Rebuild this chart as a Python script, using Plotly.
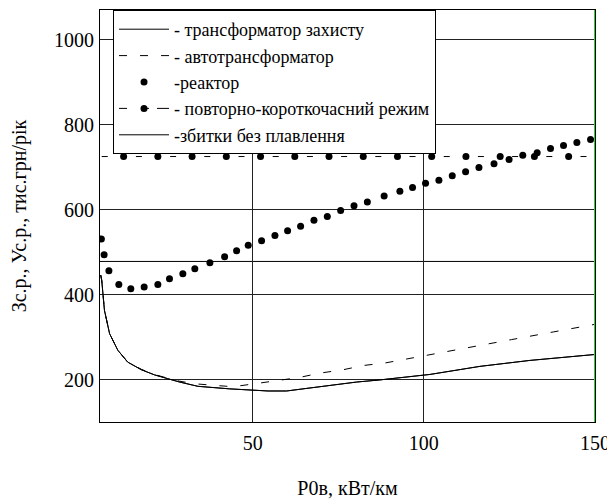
import plotly.graph_objects as go

# ---- data ----
x_tr = [5.6, 5.9, 6.7, 8.2, 10.6, 13.5, 17.5, 21.3, 25.2, 28.7, 34.0, 43.3, 54.5, 59.9,
        64.7, 72.5, 80.3, 87.1, 92.0, 101.8, 116.4, 131.0, 150.0]
y_tr = [446, 434, 363, 308, 269, 241, 223, 211, 202, 194, 184, 178, 173, 173,
        178, 186, 194, 199, 203, 212, 231, 245, 259]

x_at = [5.6, 5.9, 6.7, 8.2, 10.6, 13.5, 17.5, 21.3, 25.2, 28.7, 33.0, 37.4, 44.2, 50.6,
        56.9, 63.7, 69.6, 76.4, 82.3, 88.7, 100.8, 113.0, 125.6, 137.8, 150.0]
y_at = [446, 434, 363, 308, 269, 241, 224, 212, 203, 196, 190, 187, 183, 190,
        198, 205, 215, 223, 233, 239, 257, 276, 294, 312, 330]

x_re = [5.8, 6.6, 8.0, 10.9, 14.4, 18.3, 22.3, 25.7, 29.6, 33.1, 37.5, 41.8, 45.3, 48.7,
        52.6, 56.5, 60.2, 64.0, 67.9, 71.8, 75.7, 79.6, 83.5, 88.4, 93.0, 96.7, 100.5,
        104.4, 108.3, 112.2, 116.1, 120.5, 124.9, 128.9, 133.1, 137.0, 140.8, 144.7, 148.7]
y_re = [531, 494, 456, 424, 414, 418, 424, 437, 449, 461, 475, 489, 503, 516,
        527, 539, 550, 561, 575, 584, 598, 609, 618, 632, 643, 652, 662,
        669, 680, 689, 699, 708, 718, 728, 734, 744, 751, 758, 765]

# повторно-короткочасний режим: constant level drawn as dots with dashes between
x_pk_dots = [12.3, 22.3, 32.3, 42.3, 52.3, 62.3, 72.3, 82.3, 92.3, 102.3, 112.3,
             122.3, 132.3, 142.3]
x_pk_line = [5.9, 148.5]
y_pk = 725

x_ticks = [50, 100, 150]
y_ticks = [200, 400, 600, 800, 1000]
y_marker = 478
x_marker = 150

names = ["- трансформатор захисту", "- автотрансформатор", "-реактор",
         "- повторно-короткочасний режим", "-збитки без плавлення"]

FONT = "Times New Roman, Liberation Serif, serif"
FS = 20
FS_LEG = 18

fig = go.Figure()
fig.add_trace(go.Scatter(x=x_tr, y=y_tr, mode="lines", name=names[0],
                         line=dict(color="black", width=1)))
fig.add_trace(go.Scatter(x=x_at, y=y_at, mode="lines", name=names[1],
                         line=dict(color="black", width=1, dash="8px,13px")))
fig.add_trace(go.Scatter(x=x_re, y=y_re, mode="markers", name=names[2],
                         marker=dict(color="black", size=7)))
fig.add_trace(go.Scatter(x=x_pk_line, y=[y_pk] * len(x_pk_line), mode="lines",
                         showlegend=False, hoverinfo="skip",
                         line=dict(color="black", width=1, dash="6px,28.2px")))
fig.add_trace(go.Scatter(x=x_pk_dots, y=[y_pk] * len(x_pk_dots), mode="markers",
                         showlegend=False,
                         marker=dict(color="black", size=7)))
fig.add_trace(go.Scatter(x=[None], y=[None], mode="lines+markers", name=names[3],
                         line=dict(color="black", width=1, dash="8px,14px,8px"),
                         marker=dict(color="black", size=7)))
fig.add_trace(go.Scatter(x=x_tr, y=y_tr, mode="lines", name=names[4],
                         line=dict(color="black", width=1)))

# marker lines
fig.add_shape(type="line", xref="paper", x0=0, x1=1, yref="y", y0=y_marker, y1=y_marker,
              line=dict(color="black", width=1), layer="below")
fig.add_shape(type="line", xref="x", x0=x_marker, x1=x_marker, yref="paper", y0=0, y1=1,
              line=dict(color="#22dd22", width=2))

# the page body has an 8px margin, so the figure is sized/offset to compensate
fig.update_layout(
    width=607, height=492,
    margin=dict(l=92, r=20, t=2, b=78),
    paper_bgcolor="white", plot_bgcolor="white",
    font=dict(family=FONT, size=FS, color="black"),
    showlegend=True,
    legend=dict(x=0.0263, y=1.0, xanchor="left", yanchor="top",
                bgcolor="white", bordercolor="black", borderwidth=1,
                font=dict(family=FONT, size=FS_LEG), itemwidth=50,
                tracegroupgap=0),
    xaxis=dict(range=[5.4, 150], tickvals=x_ticks, ticktext=[str(v) for v in x_ticks],
               showgrid=True, gridcolor="#222", gridwidth=1, zeroline=False,
               showline=True, linecolor="black", linewidth=1, mirror=True,
               ticks="", ticklen=0, ticklabelstandoff=3,
               title=dict(text="P0в, кВт/км", font=dict(family=FONT, size=FS), standoff=27)),
    yaxis=dict(range=[100, 1070], tickvals=y_ticks, ticktext=[str(v) for v in y_ticks],
               showgrid=True, gridcolor="#222", gridwidth=1, zeroline=False,
               showline=True, linecolor="black", linewidth=1, mirror=True,
               ticks="", ticklen=0, ticklabelstandoff=1,
               title=dict(text="Зс.р., Ус.р., тис.грн/рік", font=dict(family=FONT, size=FS),
                          standoff=25)),
)

fig.write_html("out.html")
